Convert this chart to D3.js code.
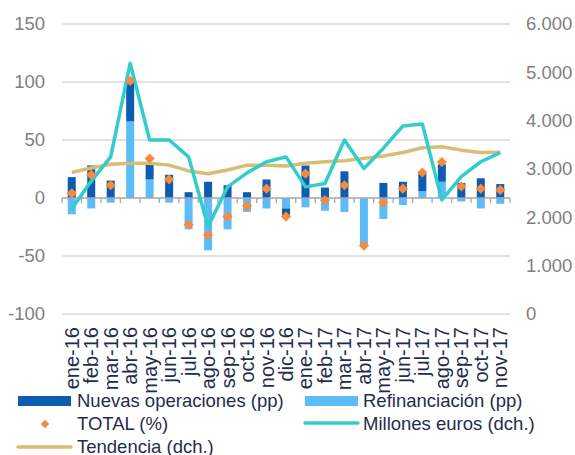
<!DOCTYPE html>
<html>
<head>
<meta charset="utf-8">
<script src="https://cdn.jsdelivr.net/npm/d3@7"></script>
<style>
  body { margin: 0; background: #fff; }
  svg { display: block; font-family: "Liberation Sans", Arial, sans-serif; }
</style>
</head>
<body>
<svg width="575" height="455"></svg>
<script>
// months on the x axis
var months = ['ene-16', 'feb-16', 'mar-16', 'abr-16', 'may-16', 'jun-16', 'jul-16', 'ago-16',
  'sep-16', 'oct-16', 'nov-16', 'dic-16', 'ene-17', 'feb-17', 'mar-17', 'abr-17', 'may-17',
  'jun-17', 'jul-17', 'ago-17', 'sep-17', 'oct-17', 'nov-17'];

// left axis (pp / %)
var nuevas = [18, 28, 15, 37, 13, 20, 5, 14, 11, 5, 16, -6, 28, 9, 23, 0, 13, 14, 16, 15, 13, 17, 12];
var refinanciacion = [-14, -9, -4, 66, 16, -4, -27, -45, -27, -12, -9, -9, -8, -11, -12, -41, -18, -6, 6, 14, -3, -9, -5];
var total = [4, 20, 11, 101, 34, 16, -23, -32, -16, -7, 8, -16, 21, -2, 11, -41, -4, 8, 22, 31, 10, 8, 7];

// right axis (millones de euros)
var millones = [2170, 2750, 3250, 5190, 3600, 3600, 3250, 1810, 2630, 2920, 3150, 3250, 2630, 2700, 3600, 3010, 3430, 3890, 3930, 2360, 2840, 3150, 3340];
var tendencia = [2930, 3020, 3100, 3120, 3120, 3080, 2960, 2900, 2980, 3080, 3080, 3060, 3120, 3150, 3170, 3220, 3270, 3340, 3440, 3460, 3390, 3340, 3345];

var leftTicks = [-100, -50, 0, 50, 100, 150];
var rightTicks = [0, 1000, 2000, 3000, 4000, 5000, 6000];

var cDark = '#0c5cb2', cLight = '#5cbcf8', cOrange = '#f68b3d', cTeal = '#33cccc', cTan = '#d9bd75';
var txt = '#1f2d4d', axisTxt = '#7f7f7f';

var svg = d3.select('svg');
var plotL = 62, plotR = 510, plotT = 24, plotB = 314;

var x = d3.scaleBand().domain(months).range([plotL, plotR]);
var yL = d3.scaleLinear().domain([-100, 150]).range([plotB, plotT]);
var yR = d3.scaleLinear().domain([0, 6000]).range([plotB, plotT]);

// gridlines
svg.append('g').selectAll('line').data(leftTicks.filter(function (d) { return d !== 0; }))
  .enter().append('line')
  .attr('x1', plotL).attr('x2', plotR)
  .attr('y1', function (d) { return yL(d); }).attr('y2', function (d) { return yL(d); })
  .attr('stroke', '#d9d9d9').attr('stroke-width', 1.3);

// axis labels (no domain line, no ticks)
var fmtR = d3.formatLocale({ decimal: ',', thousands: '.', grouping: [3], currency: ['', '€'] }).format(',.0f');
var axL = d3.axisLeft(yL).tickValues(leftTicks).tickFormat(function (d) { return String(d); })
  .tickSize(0).tickPadding(0);
svg.append('g').attr('transform', 'translate(45,0)').call(axL)
  .call(function (g) { g.select('.domain').remove(); })
  .selectAll('text').attr('fill', axisTxt).style('font-size', '18.5px').style('font-family', null);

var axR = d3.axisRight(yR).tickValues(rightTicks).tickFormat(fmtR).tickSize(0).tickPadding(0);
svg.append('g').attr('transform', 'translate(526,0)').call(axR)
  .call(function (g) { g.select('.domain').remove(); })
  .selectAll('text').attr('fill', axisTxt).style('font-size', '18.5px').style('font-family', null);

// stacked bars
var rows = months.map(function (m, i) {
  return { month: m, refi: refinanciacion[i], nuevas: nuevas[i] };
});
var stack = d3.stack().keys(['refi', 'nuevas']).offset(d3.stackOffsetDiverging)(rows);
var barW = 8;
svg.append('g').selectAll('g').data(stack).enter().append('g')
  .attr('fill', function (d) { return d.key === 'refi' ? cLight : cDark; })
  .selectAll('rect').data(function (d) { return d; }).enter().append('rect')
  .attr('x', function (d) { return x(d.data.month) + x.bandwidth() / 2 - barW / 2; })
  .attr('width', barW)
  .attr('y', function (d) { return yL(Math.max(d[0], d[1])); })
  .attr('height', function (d) { return Math.abs(yL(d[0]) - yL(d[1])); });

// zero axis line + ticks between categories
var zero = svg.append('g').attr('stroke', '#a6a6a6').attr('stroke-width', 1.3);
zero.append('line').attr('x1', plotL).attr('x2', plotR).attr('y1', yL(0)).attr('y2', yL(0));
zero.selectAll('.tk').data(d3.range(months.length + 1)).enter().append('line')
  .attr('x1', function (i) { return plotL + i * x.step(); })
  .attr('x2', function (i) { return plotL + i * x.step(); })
  .attr('y1', yL(0)).attr('y2', yL(0) + 5);

// lines on the right axis
var cx = function (i) { return x(months[i]) + x.bandwidth() / 2; };
var lineR = d3.line().x(function (d, i) { return cx(i); }).y(function (d) { return yR(d); });
svg.append('path').datum(tendencia).attr('d', lineR)
  .attr('fill', 'none').attr('stroke', cTan).attr('stroke-width', 3.5).attr('stroke-linejoin', 'round');
svg.append('path').datum(millones).attr('d', lineR)
  .attr('fill', 'none').attr('stroke', cTeal).attr('stroke-width', 3.5).attr('stroke-linejoin', 'round');

// TOTAL diamonds
var diamond = d3.symbol().type(d3.symbolSquare).size(52);
svg.append('g').selectAll('path').data(total).enter().append('path')
  .attr('d', diamond)
  .attr('transform', function (d, i) { return 'translate(' + cx(i) + ',' + yL(d) + ') rotate(45)'; })
  .attr('fill', cOrange);

// month labels
svg.append('g').selectAll('text').data(months).enter().append('text')
  .attr('transform', function (d, i) { return 'translate(' + cx(i) + ',327) rotate(-90)'; })
  .attr('dy', '0.35em')
  .attr('text-anchor', 'end')
  .attr('fill', txt).style('font-size', '20px')
  .text(function (d) { return d; });

// legend
var leg = svg.append('g').style('font-size', '18.5px').attr('fill', txt);
leg.append('rect').attr('x', 18).attr('y', 396).attr('width', 53).attr('height', 10).attr('fill', cDark);
leg.append('text').attr('x', 77).attr('y', 401).attr('dy', '0.35em').text('Nuevas operaciones (pp)');
leg.append('rect').attr('x', 305).attr('y', 396).attr('width', 53).attr('height', 10).attr('fill', cLight);
leg.append('text').attr('x', 363).attr('y', 401).attr('dy', '0.35em').text('Refinanciación (pp)');
leg.append('path').attr('d', d3.symbol().type(d3.symbolSquare).size(36))
  .attr('transform', 'translate(45,424) rotate(45)').attr('fill', cOrange);
leg.append('text').attr('x', 77).attr('y', 424).attr('dy', '0.35em').text('TOTAL (%)');
leg.append('line').attr('x1', 305).attr('x2', 358).attr('y1', 423).attr('y2', 423)
  .attr('stroke', cTeal).attr('stroke-width', 3.5).attr('stroke-linecap', 'round');
leg.append('text').attr('x', 363).attr('y', 424).attr('dy', '0.35em').text('Millones euros (dch.)');
leg.append('line').attr('x1', 18).attr('x2', 71).attr('y1', 447).attr('y2', 447)
  .attr('stroke', cTan).attr('stroke-width', 3.5).attr('stroke-linecap', 'round');
leg.append('text').attr('x', 77).attr('y', 447).attr('dy', '0.35em').text('Tendencia (dch.)');
</script>
</body>
</html>
